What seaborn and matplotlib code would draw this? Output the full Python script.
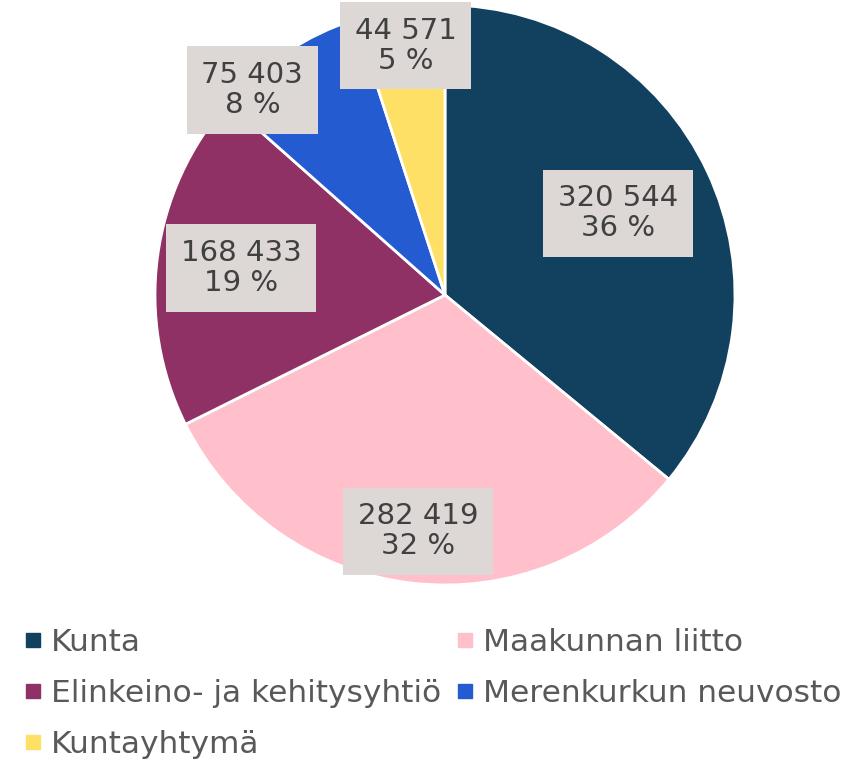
import numpy as np
import pandas as pd
import seaborn as sns
import matplotlib.pyplot as plt
from matplotlib.lines import Line2D

categories = ['Kunta', 'Maakunnan liitto', 'Elinkeino- ja kehitysyhtiö',
              'Merenkurkun neuvosto', 'Kuntayhtymä']
values = [320544, 282419, 168433, 75403, 44571]
colors = ['#12405f', '#ffc0cb', '#8f3164', '#245bd0', '#ffe066']

# where the data labels sit (fraction of radius, angle nudge in degrees)
label_r = [0.66, 0.82, 0.71, 0.97, 0.87]
label_nudge = [0, 0, 0, -10, 0]

df = pd.DataFrame({'category': categories, 'value': values, 'color': colors})
total = df.value.sum()
df['pct'] = (df.value / total * 100).round().astype(int)
df['label'] = [f'{v:,}'.replace(',', ' ') + f'\n{p} %' for v, p in zip(df.value, df.pct)]

sns.set_theme(style='white')
plt.rcParams['font.family'] = ['DejaVu Sans']

fig = plt.figure(figsize=(8.66, 7.61), dpi=100)
ax = fig.add_axes([155 / 866, 1 - 585 / 761, 580 / 866, 580 / 761])

ax.pie(df.value, colors=df.color, startangle=90, counterclock=False, radius=1,
       wedgeprops=dict(edgecolor='white', linewidth=2))
ax.set_xlim(-1, 1)
ax.set_ylim(-1, 1)
ax.axis('off')

cum = df.value.cumsum() - df.value / 2
for i, row in df.iterrows():
    ang = np.deg2rad(cum[i] / total * 360 + label_nudge[i])
    x, y = label_r[i] * np.sin(ang), label_r[i] * np.cos(ang)
    ax.text(x, y, row.label, ha='center', va='center', fontsize=21, color='#404040',
            linespacing=1.1, multialignment='center',
            bbox=dict(boxstyle='square,pad=0.5', fc='#ddd8d5', ec='none'))

# legend row-major: matplotlib fills column-wise so reorder
order = [0, 2, 4, 1, 3]
handles = [Line2D([], [], marker='s', ls='none', markersize=9.5, color=colors[i]) for i in order]
labels = [categories[i] for i in order]
fig.legend(handles, labels, loc='upper left', bbox_to_anchor=(24 / 866, 1 - 628 / 761),
           ncol=2, frameon=False, fontsize=22.5, labelcolor='#595959',
           handlelength=0.55, handletextpad=0.3, labelspacing=0.7,
           columnspacing=0.5, borderpad=0, borderaxespad=0)

fig.savefig('out.png', dpi=100)
